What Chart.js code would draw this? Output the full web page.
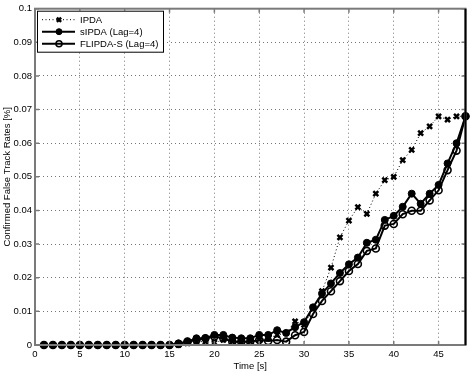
<!DOCTYPE html>
<html>
<head>
<meta charset="utf-8">
<script src="https://cdn.jsdelivr.net/npm/chart.js@4/dist/chart.umd.min.js"></script>
<style>
  body { margin: 0; background: #fff; }
  canvas { display: block; }
</style>
</head>
<body>
<canvas id="rateChart" width="472" height="373"></canvas>
<script>
// time axis, one sample per second
const times = [1, 2, 3, 4, 5, 6, 7, 8, 9, 10, 11, 12, 13, 14, 15, 16, 17, 18, 19, 20, 21, 22, 23, 24,
  25, 26, 27, 28, 29, 30, 31, 32, 33, 34, 35, 36, 37, 38, 39, 40, 41, 42, 43, 44, 45, 46, 47, 48];

const ipda = [0, 0, 0, 0, 0, 0, 0, 0, 0, 0, 0, 0, 0, 0, 0, 0, 0.0005, 0.001, 0.001, 0.0007, 0.0015, 0.001, 0.0007, 0.001,
  0.0015, 0.002, 0.003, 0.0035, 0.007, 0.006, 0.011, 0.016, 0.023, 0.032, 0.037, 0.041, 0.039, 0.045, 0.049, 0.050,
  0.055, 0.058, 0.063, 0.065, 0.068, 0.067, 0.068, 0.068];

const sipda = [0, 0, 0, 0, 0, 0, 0, 0, 0, 0, 0, 0, 0, 0, 0, 0.0005, 0.001, 0.002, 0.002, 0.003, 0.003, 0.0022, 0.002, 0.002,
  0.003, 0.003, 0.0044, 0.0036, 0.0053, 0.0068, 0.0112, 0.0153, 0.0183, 0.0214, 0.024, 0.026, 0.0304, 0.0313, 0.0372, 0.0384,
  0.0411, 0.045, 0.042, 0.045, 0.0476, 0.054, 0.060, 0.068];

const flipda = [0, 0, 0, 0, 0, 0, 0, 0, 0, 0, 0, 0, 0, 0, 0, 0.0003, 0.001, 0.0015, 0.002, 0.0025, 0.002, 0.001, 0.001, 0.001,
  0.0015, 0.0012, 0.0015, 0.001, 0.0029, 0.0039, 0.0092, 0.0131, 0.016, 0.019, 0.022, 0.0241, 0.028, 0.0287, 0.0355, 0.036,
  0.0389, 0.0399, 0.0399, 0.043, 0.046, 0.052, 0.0578, 0.068];

const xTicks = [0, 5, 10, 15, 20, 25, 30, 35, 40, 45];
const yTicks = [0, 0.01, 0.02, 0.03, 0.04, 0.05, 0.06, 0.07, 0.08, 0.09, 0.1];

const FONT = "'Liberation Sans', Arial, sans-serif";
const toPoints = vals => times.map((t, i) => ({ x: t, y: vals[i] }));

// matlab style box with inward tick marks on all four sides
const framePlugin = {
  id: "frame",
  afterDatasetsDraw(chart) {
    const { ctx, chartArea: a, scales } = chart;
    ctx.save();
    ctx.strokeStyle = "#7a7a7a";
    ctx.lineWidth = 1.5;
    ctx.beginPath();
    scales.x.ticks.forEach(t => {
      const px = scales.x.getPixelForValue(t.value);
      ctx.moveTo(px, a.bottom); ctx.lineTo(px, a.bottom - 4);
      ctx.moveTo(px, a.top); ctx.lineTo(px, a.top + 4);
    });
    scales.y.ticks.forEach(t => {
      const py = scales.y.getPixelForValue(t.value);
      ctx.moveTo(a.left, py); ctx.lineTo(a.left + 4, py);
      ctx.moveTo(a.right, py); ctx.lineTo(a.right - 4, py);
    });
    ctx.stroke();
    ctx.lineWidth = 2;
    ctx.strokeRect(a.left, a.top, a.right - a.left, a.bottom - a.top);
    ctx.strokeStyle = "#000";
    ctx.beginPath();
    ctx.moveTo(a.right, a.top); ctx.lineTo(a.right, a.bottom);
    ctx.stroke();
    ctx.restore();
  }
};

const legendPlugin = {
  id: "boxLegend",
  afterDraw(chart) {
    const { ctx, chartArea: a } = chart;
    const x0 = a.left + 2, y0 = a.top + 2, w = 126, h = 41;
    ctx.save();
    ctx.fillStyle = "#fff";
    ctx.fillRect(x0, y0, w, h);
    ctx.strokeStyle = "#000";
    ctx.lineWidth = 1;
    ctx.strokeRect(x0 + 0.5, y0 + 0.5, w, h);
    ctx.font = "9.5px " + FONT;
    ctx.textBaseline = "middle";
    chart.data.datasets.forEach((ds, i) => {
      const yy = y0 + 9 + i * 12;
      ctx.strokeStyle = "#000";
      ctx.lineWidth = ds.borderWidth;
      ctx.setLineDash(ds.borderDash || []);
      ctx.beginPath();
      ctx.moveTo(x0 + 5, yy); ctx.lineTo(x0 + 38, yy);
      ctx.stroke();
      ctx.setLineDash([]);
      ctx.lineWidth = ds.pointBorderWidth;
      ctx.fillStyle = ds.pointBackgroundColor || "#000";
      Chart.helpers.drawPoint(ctx, {
        pointStyle: ds.pointStyle, radius: ds.pointRadius - 0.5, borderWidth: ds.pointBorderWidth, rotation: 0
      }, x0 + 22, yy);
      ctx.fillStyle = "#000";
      ctx.fillText(ds.label, x0 + 43, yy + 0.5);
    });
    ctx.restore();
  }
};

new Chart(document.getElementById("rateChart").getContext("2d"), {
  type: "line",
  data: {
    datasets: [
      {
        label: "IPDA",
        data: toPoints(ipda),
        borderColor: "#000",
        borderWidth: 1,
        borderDash: [1, 2.5],
        pointStyle: "crossRot",
        pointRadius: 3.5,
        pointBorderWidth: 2.5,
        pointBorderColor: "#000",
        pointBackgroundColor: "#000",
        order: 2,
        clip: false
      },
      {
        label: "sIPDA (Lag=4)",
        data: toPoints(sipda),
        borderColor: "#000",
        borderWidth: 2,
        pointStyle: "circle",
        pointRadius: 3.5,
        pointBorderWidth: 1,
        pointBackgroundColor: "#000",
        pointBorderColor: "#000",
        order: 1,
        clip: false
      },
      {
        label: "FLIPDA-S (Lag=4)",
        data: toPoints(flipda),
        borderColor: "#000",
        borderWidth: 2,
        pointStyle: "circle",
        pointRadius: 3.5,
        pointBorderWidth: 1.6,
        pointBackgroundColor: "rgba(0,0,0,0)",
        pointBorderColor: "#000",
        order: 0,
        clip: false
      }
    ]
  },
  options: {
    responsive: false,
    animation: false,
    devicePixelRatio: 1,
    layout: { padding: { top: 3, right: 5, left: 2, bottom: 0 } },
    plugins: {
      legend: { display: false },
      tooltip: { enabled: false }
    },
    elements: { line: { tension: 0, fill: false } },
    scales: {
      x: {
        type: "linear",
        min: 0,
        max: 48,
        afterBuildTicks: s => { s.ticks = xTicks.map(v => ({ value: v })); },
        afterFit: s => { s.height = 28; },
        grid: { color: "#777", lineWidth: 1, drawTicks: false },
        border: { display: false, dash: [1, 3] },
        ticks: { color: "#000", padding: 4, font: { family: FONT, size: 9.5 }, maxRotation: 0 },
        title: { display: true, text: "Time [s]", color: "#000", padding: { top: 0, bottom: 1 }, font: { family: FONT, size: 9.5 } }
      },
      y: {
        min: 0,
        max: 0.1,
        afterBuildTicks: s => { s.ticks = yTicks.map(v => ({ value: v })); },
        afterFit: s => { s.width = 33; },
        grid: { color: "#777", lineWidth: 1, drawTicks: false },
        border: { display: false, dash: [1, 3] },
        ticks: { color: "#000", padding: 3, font: { family: FONT, size: 9.5 }, callback: v => String(v) },
        title: { display: true, text: "Confirmed False Track Rates [%]", color: "#000", padding: { top: 0, bottom: 0 }, font: { family: FONT, size: 9.5 } }
      }
    }
  },
  plugins: [framePlugin, legendPlugin]
});
</script>
</body>
</html>
